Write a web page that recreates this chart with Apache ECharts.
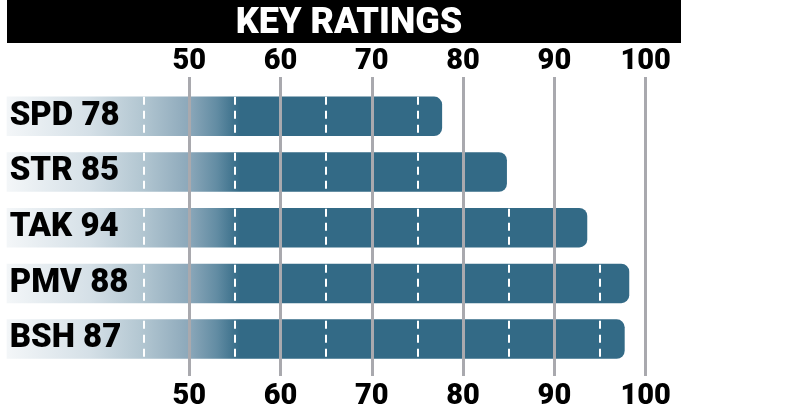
<!DOCTYPE html>
<html>
<head>
<meta charset="utf-8">
<script src="https://cdn.jsdelivr.net/npm/echarts@6/dist/echarts.min.js"></script>
<style>
html,body{margin:0;padding:0;background:#fff;}
#c{width:785px;height:415px;}
</style>
</head>
<body>
<div id="c"></div>
<script>
const titleText = 'KEY RATINGS';
const categories = ['SPD', 'STR', 'TAK', 'PMV', 'BSH'];
const ratings = [78, 85, 94, 88, 87];
const barLengths = [77.7, 84.8, 93.6, 98.2, 97.7];
const tickLabels = [50, 60, 70, 80, 90, 100];
const dashMarks = [45, 55, 65, 75, 85, 95];

const FONT = "Roboto,'DejaVu Sans Condensed',sans-serif";
const AX_MIN = 30, AX_MAX = 104;
const GL = 6.7, GR = 785 - 682.2;

const chart = echarts.init(document.getElementById('c'));

const labelFmt = v => tickLabels.indexOf(v) >= 0 ? String(v) : '';
const gray = '#a9a9ae';
const clear = 'rgba(0,0,0,0)';

const grayColors = [];
for (let v = AX_MIN; v <= 110; v += 10) grayColors.push(tickLabels.indexOf(v) >= 0 ? gray : clear);
const dashColors = [];
for (let v = AX_MIN; v <= 110; v += 5) dashColors.push(dashMarks.indexOf(v) >= 0 ? '#fff' : clear);

const grad = new echarts.graphic.LinearGradient(8, 0, 240, 0, [
  {offset: 0, color: '#f3f6f8'},
  {offset: 0.35, color: '#d5e0e7'},
  {offset: 0.58, color: '#b2c6d1'},
  {offset: 0.78, color: '#8ca8ba'},
  {offset: 0.9, color: '#628ca3'},
  {offset: 1, color: '#336a86'}
], true);

chart.setOption({
  animation: false,
  backgroundColor: '#fff',
  title: {
    text: titleText,
    left: 344,
    textAlign: 'center',
    top: 1,
    z: 10,
    textStyle: {color: '#fff', fontFamily: FONT, fontWeight: 900, fontSize: 36}
  },
  graphic: [{
    type: 'rect', z: 0, silent: true,
    shape: {x: 7, y: 0, width: 674, height: 43},
    style: {fill: '#000'}
  }],
  grid: [
    {left: GL, right: GR, top: 77, height: 299},
    {left: GL, right: GR, top: 88.5, height: 278.4}
  ],
  xAxis: [
    {
      gridIndex: 0, type: 'value', position: 'top', min: AX_MIN, max: AX_MAX, interval: 10, z: 10,
      axisLine: {show: false}, axisTick: {show: false},
      axisLabel: {formatter: labelFmt, margin: 1, color: '#000', fontFamily: FONT, fontWeight: 900, fontSize: 29},
      splitLine: {show: true, lineStyle: {width: 3, color: grayColors}}
    },
    {
      gridIndex: 0, type: 'value', position: 'bottom', min: AX_MIN, max: AX_MAX, interval: 10,
      axisLine: {show: false}, axisTick: {show: false}, splitLine: {show: false},
      axisLabel: {formatter: labelFmt, margin: 6, color: '#000', fontFamily: FONT, fontWeight: 900, fontSize: 29}
    },
    {
      gridIndex: 1, type: 'value', min: AX_MIN, max: AX_MAX, interval: 5, z: 9,
      axisLine: {show: false}, axisTick: {show: false}, axisLabel: {show: false},
      splitLine: {show: true, lineStyle: {color: dashColors, width: 2, type: [8, 6], dashOffset: 5.8}}
    }
  ],
  yAxis: [
    {gridIndex: 0, type: 'value', show: false},
    {gridIndex: 1, type: 'category', data: categories, inverse: true, show: false}
  ],
  series: [{
    type: 'bar',
    xAxisIndex: 2, yAxisIndex: 1,
    data: barLengths,
    barWidth: 39.5,
    z: 2,
    itemStyle: {color: grad, borderRadius: [0, 8, 8, 0]},
    label: {
      show: true, position: 'insideLeft', distance: 3,
      formatter: p => categories[p.dataIndex] + ' ' + ratings[p.dataIndex],
      color: '#000', fontFamily: FONT, fontWeight: 900, fontSize: 33
    }
  }]
});
</script>
</body>
</html>
